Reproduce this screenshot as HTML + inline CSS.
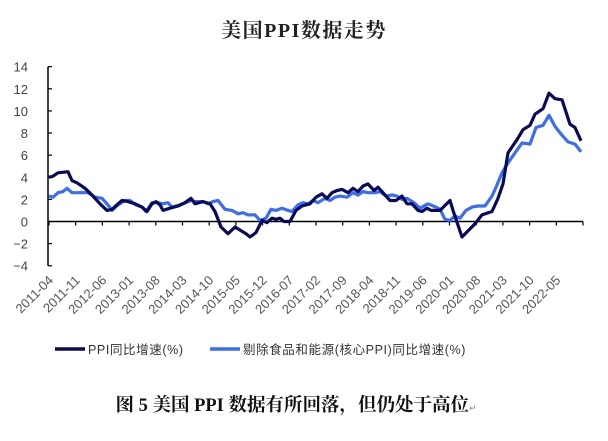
<!DOCTYPE html>
<html><head><meta charset="utf-8"><style>
html,body{margin:0;padding:0;background:#fff;}
body{width:608px;height:436px;overflow:hidden;}
</style></head><body>
<svg id="s" width="608" height="436" xmlns="http://www.w3.org/2000/svg" font-family="Liberation Sans, Noto Sans CJK SC, sans-serif">
<text x="304" y="37" text-anchor="middle" font-family="Liberation Serif, Noto Serif CJK SC, serif" font-weight="bold" font-size="20" letter-spacing="1.5" fill="#222">美国PPI数据走势</text>
<g id="yax"></g>
<g id="xax"></g>
<polyline id="light" fill="none" stroke="#3a6cf4" stroke-width="3.2" stroke-linejoin="round"/>
<polyline id="dark" fill="none" stroke="#0a0a5c" stroke-width="3.2" stroke-linejoin="round"/>
<line x1="55" y1="349" x2="85" y2="349" stroke="#0a0a5c" stroke-width="3.5"/>
<text x="88" y="354" font-size="12.5" letter-spacing="0.6" fill="#333">PPI同比增速(%)</text>
<line x1="210" y1="349" x2="240" y2="349" stroke="#3a6cf4" stroke-width="3.5"/>
<text x="243" y="354" font-size="12.5" letter-spacing="0.6" fill="#333">剔除食品和能源(核心PPI)同比增速(%)</text>
<text x="296" y="411" text-anchor="middle" font-family="Liberation Serif, Noto Serif CJK SC, serif" font-weight="bold" font-size="18.5" fill="#111">图 5 美国 PPI 数据有所回落，但仍处于高位<tspan font-size="9" font-weight="normal" fill="#888">↵</tspan></text>
</svg>
<script>
var ns="http://www.w3.org/2000/svg";
function Y(v){return 221.5-v*11.06;}
function el(t,a,p,txt){var e=document.createElementNS(ns,t);for(var k in a)e.setAttribute(k,a[k]);if(txt)e.textContent=txt;p.appendChild(e);return e;}
var ya=document.getElementById('yax'),xa=document.getElementById('xax');
el('line',{x1:48,y1:Y(14),x2:48,y2:Y(-4),stroke:'#000','stroke-width':1.5},ya);
for(var v=-4;v<=14;v+=2){el('line',{x1:48,y1:Y(v),x2:52,y2:Y(v),stroke:'#000','stroke-width':1.2},ya);
el('text',{x:28,y:Y(v)+5,'text-anchor':'end','font-size':13,fill:'#444'},ya,String(v).replace('-','−'));}
el('line',{x1:48,y1:Y(0),x2:583,y2:Y(0),stroke:'#000','stroke-width':1.5},xa);
var labs=['2011-04','2011-11','2012-06','2013-01','2013-08','2014-03','2014-10','2015-05','2015-12','2016-07','2017-02','2017-09','2018-04','2018-11','2019-06','2020-01','2020-08','2021-03','2021-10','2022-05'];
for(var i=0;i<=20;i++){var x=49+i*26.7;el('line',{x1:x,y1:Y(0),x2:x,y2:Y(0)+4,stroke:'#000','stroke-width':1.2},xa);
if(i<20){el('text',{x:0,y:0,'text-anchor':'end','font-size':13,fill:'#555',transform:'translate('+(x+5)+',281) rotate(-45)'},xa,labs[i]);}}
var d=[49,4.0,53,4.1,58,4.4,68,4.5,72,3.7,77,3.5,85,3.0,92,2.4,100,1.6,107,1.0,112,1.1,118,1.6,122,1.9,128,1.8,135,1.6,142,1.3,147,0.9,152,1.6,156,1.8,160,1.5,163,1.0,170,1.2,178,1.4,185,1.7,191,2.1,195,1.6,203,1.8,210,1.6,215,0.9,221,-0.5,228,-1.1,235,-0.5,246,-1.1,250,-1.4,256,-1.0,262,0.1,267,-0.1,272,0.3,276,0.2,280,0.3,284,0.0,290,0.0,296,1.0,302,1.4,310,1.6,316,2.2,322,2.5,327,2.1,332,2.6,337,2.8,342,2.9,348,2.6,353,3.0,358,2.7,363,3.2,368,3.4,374,2.8,378,3.1,384,2.5,390,1.9,396,1.9,402,2.3,407,1.6,412,1.6,418,1.0,422,0.9,427,1.2,431,1.0,440,1.0,450,1.9,453,1.0,462,-1.4,475,-0.2,482,0.6,492,0.9,498,2.1,503,3.4,508,6.2,517,7.4,523,8.3,530,8.7,535,9.7,543,10.2,549,11.6,555,11.1,562,11.0,570,8.8,575,8.5,581,7.3];
var l=[49,2.3,53,2.2,58,2.6,63,2.7,67,3.0,72,2.6,78,2.6,88,2.6,95,2.2,102,2.1,108,1.5,112,1.0,118,1.5,125,1.9,130,1.9,136,1.5,142,1.3,146,0.9,152,1.7,158,1.7,163,1.6,168,1.7,172,1.3,180,1.5,188,1.8,192,1.9,195,1.8,203,1.8,208,1.6,213,1.8,218,1.9,225,1.1,232,1.0,238,0.7,243,0.8,248,0.6,255,0.6,260,0.1,266,0.3,271,1.1,276,1.0,282,1.2,288,1.0,292,0.9,298,1.5,303,1.7,308,1.6,313,1.9,318,1.7,325,2.1,330,1.9,335,2.2,340,2.3,347,2.2,353,2.6,358,2.4,363,2.7,368,2.6,375,2.6,380,2.7,386,2.3,392,2.4,397,2.3,402,2.0,407,2.1,414,1.7,420,1.2,428,1.6,436,1.3,440,1.1,445,0.2,450,0.1,455,0.5,460,0.3,466,1.0,472,1.3,478,1.4,485,1.4,492,2.3,497,3.3,502,4.4,508,5.3,515,6.2,522,7.1,530,7.0,536,8.5,543,8.7,549,9.6,555,8.6,562,7.8,568,7.2,575,7.0,581,6.3];
function pts(a){var s=[];for(var i=0;i<a.length;i+=2)s.push(a[i]+','+Y(a[i+1]).toFixed(1));return s.join(' ');}
document.getElementById('dark').setAttribute('points',pts(d));
document.getElementById('light').setAttribute('points',pts(l));
</script>
</body></html>
